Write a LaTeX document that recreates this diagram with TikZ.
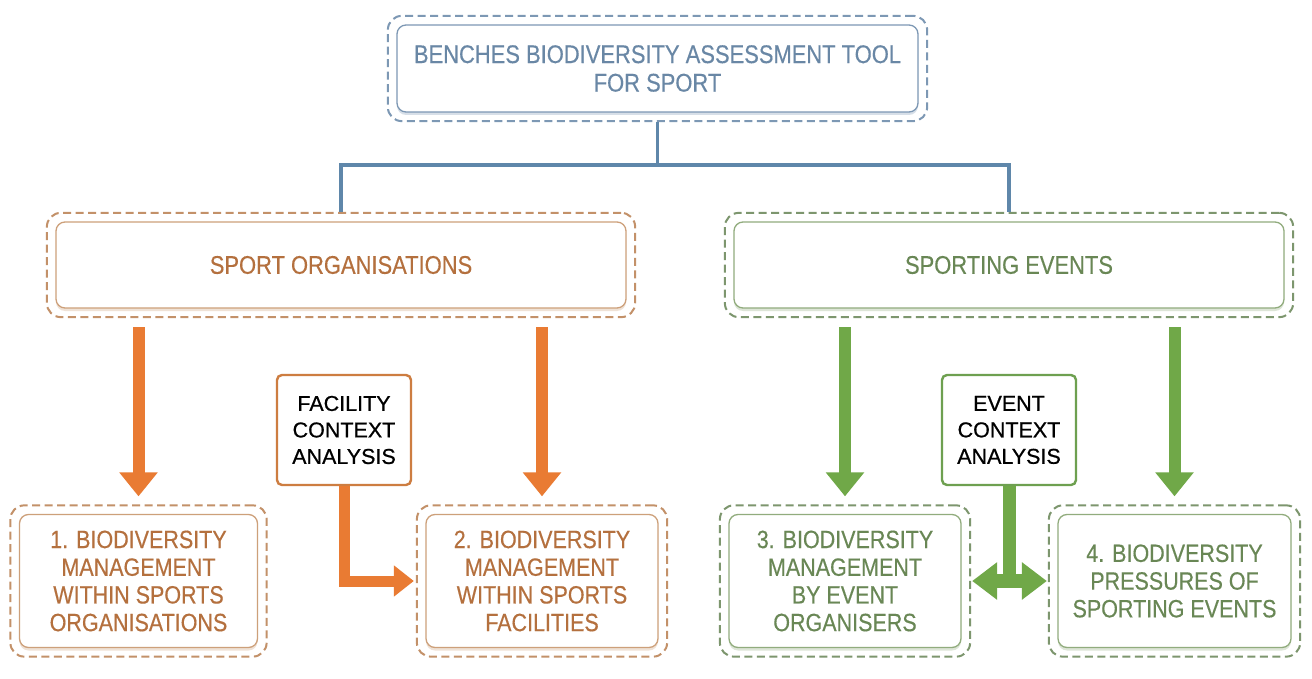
\documentclass[tikz,border=0pt]{standalone}
\usepackage{fontspec}
\usepackage{tikz}
\usetikzlibrary{arrows.meta,fit,shadows}
\newfontfamily\boxfont[FakeStretch=0.86,FakeBold=0.35]{Liberation Sans}
\newfontfamily\ctxfont[FakeBold=0.7]{Liberation Sans}
\definecolor{ToolText}{RGB}{105,135,165}
\definecolor{ToolLine}{RGB}{95,135,170}
\definecolor{ToolEdge}{RGB}{125,152,180}
\definecolor{OrgText}{RGB}{180,112,62}
\definecolor{OrgEdge}{RGB}{205,160,122}
\definecolor{OrgDash}{RGB}{195,145,105}
\definecolor{OrgArrow}{RGB}{233,123,51}
\definecolor{OrgCtx}{RGB}{205,125,65}
\definecolor{EvtText}{RGB}{105,135,85}
\definecolor{EvtEdge}{RGB}{145,172,125}
\definecolor{EvtDash}{RGB}{125,150,110}
\definecolor{EvtArrow}{RGB}{112,168,72}
\definecolor{EvtCtx}{RGB}{110,160,80}

\begin{document}
\begin{tikzpicture}[x=1pt, y=-1pt,
    inbox/.style={draw=#1, fill=white, rounded corners=9pt, line width=1.3pt,
                  align=center, inner sep=2pt,
                  drop shadow={shadow xshift=0pt, shadow yshift=-3pt, opacity=0.3, fill=#1}},
    outbox/.style={draw=#1, rounded corners=14pt, line width=2pt,
                   dash pattern=on 8pt off 4.5pt, inner sep=8.5pt},
    bigfont/.style={font=\boxfont\fontsize{25.5}{28.5}\selectfont},
    smallfont/.style={font=\boxfont\fontsize{25}{27.7}\selectfont},
    ctxbox/.style={draw=#1, fill=white, rounded corners=5pt, line width=2.4pt,
                   minimum width=134pt, minimum height=110pt, align=center,
                   font=\ctxfont\fontsize{21.5}{26.5}\selectfont},
    tree/.style={draw=ToolLine, line width=3.2pt},
    fat/.style={line width=12pt, shorten <=9pt, shorten >=8pt,
                -{Triangle[length=24pt, width=37pt]}},
]
    \fill[white] (0,0) rectangle (1312,679);
    \useasboundingbox (0,0) rectangle (1312,679);

    % tool
    \node[inbox=ToolEdge, bigfont, text=ToolText, minimum width=521pt, minimum height=87pt]
        (tool) at (657.5,68.5) {BENCHES BIODIVERSITY ASSESSMENT TOOL\\FOR SPORT};
    \node[outbox=ToolEdge, fit=(tool)] (toolout) {};

    % two branches
    \node[inbox=OrgEdge, bigfont, text=OrgText, minimum width=570pt, minimum height=86pt]
        (orgs) at (341,265) {SPORT ORGANISATIONS};
    \node[outbox=OrgDash, fit=(orgs)] (orgsout) {};
    \node[inbox=EvtEdge, bigfont, text=EvtText, minimum width=550pt, minimum height=86pt]
        (events) at (1009,265) {SPORTING EVENTS};
    \node[outbox=EvtDash, fit=(events)] (eventsout) {};

    % modules
    \node[inbox=OrgEdge, smallfont, text=OrgText, minimum width=238pt, minimum height=133pt]
        (mod1) at (138.5,581) {1. BIODIVERSITY\\MANAGEMENT\\WITHIN SPORTS\\ORGANISATIONS};
    \node[outbox=OrgDash, fit=(mod1)] (mod1out) {};
    \node[inbox=OrgEdge, smallfont, text=OrgText, minimum width=232pt, minimum height=133pt]
        (mod2) at (542,581) {2. BIODIVERSITY\\MANAGEMENT\\WITHIN SPORTS\\FACILITIES};
    \node[outbox=OrgDash, fit=(mod2)] (mod2out) {};
    \node[inbox=EvtEdge, smallfont, text=EvtText, minimum width=232pt, minimum height=133pt]
        (mod3) at (845,581) {3. BIODIVERSITY\\MANAGEMENT\\BY EVENT\\ORGANISERS};
    \node[outbox=EvtDash, fit=(mod3)] (mod3out) {};
    \node[inbox=EvtEdge, smallfont, text=EvtText, minimum width=233pt, minimum height=133pt]
        (mod4) at (1174.5,581) {4. BIODIVERSITY\\PRESSURES OF\\SPORTING EVENTS};
    \node[outbox=EvtDash, fit=(mod4)] (mod4out) {};

    % context boxes
    \node[ctxbox=OrgCtx] (facctx) at (344,430) {FACILITY\\CONTEXT\\ANALYSIS};
    \node[ctxbox=EvtCtx] (evtctx) at (1009,430) {EVENT\\CONTEXT\\ANALYSIS};

    % tree lines
    \coordinate (split) at (657.5,165);
    \draw[tree] (toolout.south) -- (split) -| (orgsout.north);
    \draw[tree] (split) -| (eventsout.north);

    % arrows
    \draw[fat, OrgArrow] (orgsout.south -| mod1out.north) -- (mod1out.north);
    \draw[fat, OrgArrow] (orgsout.south -| mod2out.north) -- (mod2out.north);
    \draw[fat, EvtArrow] (eventsout.south -| mod3out.north) -- (mod3out.north);
    \draw[fat, EvtArrow] (eventsout.south -| mod4out.north) -- (mod4out.north);

    \draw[OrgArrow, line width=11pt, shorten >=2pt, -{Triangle[length=20pt, width=30pt]}]
        (facctx.south) |- (mod2out.west);

    \coordinate (evtjoin) at (evtctx.south |- mod3out.east);
    \draw[EvtArrow, line width=13pt] (evtctx.south) -- (evtjoin);
    \draw[EvtArrow, line width=14pt, shorten <=1pt, shorten >=1pt,
          {Triangle[length=25pt, width=36pt]}-{Triangle[length=25pt, width=36pt]}]
        (mod3out.east) -- (mod4out.west);
\end{tikzpicture}
\end{document}
